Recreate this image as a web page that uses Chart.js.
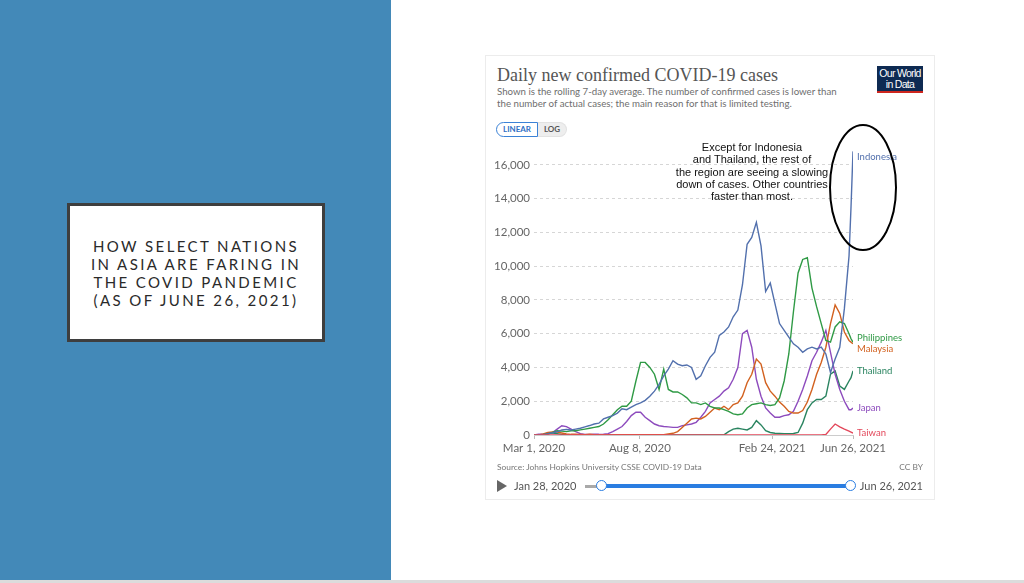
<!doctype html>
<html>
<head>
<meta charset="utf-8">
<title>How select nations in Asia are faring in the COVID pandemic</title>
<script src="https://cdn.jsdelivr.net/npm/chart.js@4.4.1/dist/chart.umd.min.js"></script>
<style>
body { margin: 0; width: 1024px; height: 583px; overflow: hidden; background: #fff; font-family: Lato, sans-serif; position: relative; }
.abs { position: absolute; }
#panel { left: 0; top: 0; width: 391px; height: 580px; background: #4389b8; }
#strip { left: 0; top: 580px; width: 1024px; height: 3px; background: #dcdcdc; }
#titlebox { left: 67px; top: 203px; width: 258px; height: 139px; box-sizing: border-box; border: 3px solid #3e3e3e; background: #fff;
  display: flex; align-items: center; justify-content: center; text-align: center;
  font-family: Lato, sans-serif; font-size: 15px; line-height: 18px; letter-spacing: 2.4px; color: #2a2a2a; }
#card { left: 485px; top: 55px; width: 450px; height: 445px; box-sizing: border-box; border: 1px solid #ececec; }
#title { left: 497px; top: 65px; font-family: "Liberation Serif", serif; font-size: 18px; color: #555; white-space: nowrap; }
#subtitle { left: 497px; top: 86px; font-size: 9.7px; line-height: 11.5px; color: #6e6e6e; white-space: nowrap; }
#logo { left: 877px; top: 66px; width: 46px; height: 27px; background: #0e2a52; border-bottom: 2px solid #ce261e; box-sizing: border-box;
  color: #fff; font-family: "Liberation Sans", sans-serif; font-size: 10.5px; line-height: 10.5px; text-align: center; letter-spacing: -0.7px; padding-top: 2px; white-space: nowrap; }
#toggle { left: 496px; top: 122px; height: 15px; display: flex; font-size: 8px; font-weight: bold; }
#toggle span { display: block; line-height: 13px; }
#lin { width: 40px; text-align: center; border: 1px solid #3b82d6; border-radius: 8px 0 0 8px; color: #2f6fc4; background: #fff; }
#log { width: 28px; text-align: center; border: 1px solid #e2e2e2; border-left: none; border-radius: 0 8px 8px 0; color: #555; background: #eee; }
#note { left: 662px; top: 141px; width: 180px; text-align: center; font-family: "Liberation Sans", Arial, sans-serif; font-size: 11px; line-height: 12.3px; color: #111; }
#source { left: 497px; top: 462px; font-size: 8.4px; color: #777; white-space: nowrap; }
#ccby { left: 870px; top: 462px; width: 53px; text-align: right; font-size: 8.4px; color: #777; white-space: nowrap; }
#play { left: 497px; top: 480px; width: 0; height: 0; border-top: 6px solid transparent; border-bottom: 6px solid transparent; border-left: 10px solid #666; }
#start { left: 514px; top: 479px; font-size: 11px; color: #555; white-space: nowrap; }
#end { left: 853px; top: 479px; width: 70px; text-align: right; font-size: 11px; color: #555; white-space: nowrap; }
#stub { left: 585px; top: 485px; width: 17px; height: 3px; background: #a9a9a9; }
#track { left: 602px; top: 484px; width: 249px; height: 4px; background: #2a7de1; }
.knob { width: 9px; height: 9px; border-radius: 50%; background: #fff; border: 1.5px solid #2a7de1; top: 480px; }
#k1 { left: 596px; }
#k2 { left: 845px; }
#holder { left: 485px; top: 130px; width: 450px; height: 330px; }
#oval { left: 0; top: 0; }
</style>
</head>
<body>
<div id="panel" class="abs"></div>
<div id="strip" class="abs"></div>
<div id="titlebox" class="abs"><div>HOW SELECT NATIONS<br>IN ASIA ARE FARING IN<br>THE COVID PANDEMIC<br>(AS OF JUNE 26, 2021)</div></div>
<div id="card" class="abs"></div>
<div id="title" class="abs">Daily new confirmed COVID-19 cases</div>
<div id="subtitle" class="abs">Shown is the rolling 7-day average. The number of confirmed cases is lower than<br>the number of actual cases; the main reason for that is limited testing.</div>
<div id="logo" class="abs">Our World<br>in Data</div>
<div id="toggle" class="abs"><span id="lin">LINEAR</span><span id="log">LOG</span></div>
<div id="holder" class="abs"><canvas id="chart-area" width="450" height="330"></canvas></div>
<div id="note" class="abs">Except for Indonesia<br>and Thailand, the rest of<br>the region are seeing a slowing<br>down of cases. Other countries<br>faster than most.</div>
<svg id="oval" class="abs" width="1024" height="583"><ellipse cx="863" cy="187.5" rx="33" ry="62.5" fill="none" stroke="#000" stroke-width="2"/></svg>
<div id="source" class="abs">Source: Johns Hopkins University CSSE COVID-19 Data</div>
<div id="ccby" class="abs">CC BY</div>
<div id="play" class="abs"></div>
<div id="start" class="abs">Jan 28, 2020</div>
<div id="stub" class="abs"></div>
<div id="track" class="abs"></div>
<div id="k1" class="abs knob"></div>
<div id="k2" class="abs knob"></div>
<div id="end" class="abs">Jun 26, 2021</div>
<script>
// days since Mar 1, 2020 (weekly, plus the last days of the run-up)
var days = [0, 7, 14, 21, 28, 35, 42, 49, 56, 63,
    70, 77, 84, 91, 98, 105, 112, 119, 126, 133,
    140, 147, 154, 161, 168, 175, 182, 189, 196, 203,
    210, 217, 224, 231, 238, 245, 252, 259, 266, 273,
    280, 287, 294, 301, 308, 315, 322, 329, 336, 343,
    350, 357, 364, 371, 378, 385, 392, 399, 406, 413,
    420, 427, 434, 441, 448, 455, 462, 469, 476, 479, 482];

// axis ticks
var tickDays = [0, 160, 360, 482];
var tickLabels = ["Mar 1, 2020", "Aug 8, 2020", "Feb 24, 2021", "Jun 26, 2021"];
var yTicks = [0, 2000, 4000, 6000, 8000, 10000, 12000, 14000, 16000];

// rolling 7-day average of new cases
var indonesia = [0, 2, 20, 80, 130, 190, 300, 330, 300, 350,
    400, 480, 560, 650, 700, 950, 1050, 1150, 1300, 1550,
    1500, 1650, 1800, 1900, 2050, 2300, 2600, 3000, 3500, 3900,
    4400, 4200, 4100, 4150, 4000, 3300, 3500, 4100, 4600, 4900,
    5900, 6100, 6400, 7000, 7400, 8900, 11300, 11700, 12600, 11200,
    8500, 9000, 7800, 6600, 6200, 5800, 5400, 5200, 4900, 5100,
    5200, 5100, 5200, 4800, 3700, 4500, 5200, 7500, 10600, 13500, 16800];
var philippines = [0, 1, 15, 60, 150, 250, 230, 200, 250, 250,
    300, 350, 400, 450, 500, 650, 900, 1200, 1500, 1700,
    1700, 2000, 3200, 4300, 4300, 4000, 3600, 2700, 3900, 2700,
    2550, 2550, 2400, 2200, 1900, 1900, 1800, 1900, 1700, 1600,
    1600, 1500, 1400, 1250, 1200, 1250, 1600, 1800, 1850, 1900,
    1800, 1750, 1800, 2200, 3200, 4800, 7300, 9600, 10400, 10500,
    8700, 7600, 6600, 5600, 5500, 6400, 6700, 6600, 6000, 5700, 5500];
var malaysia = [0, 5, 60, 150, 180, 170, 120, 60, 40, 40,
    30, 20, 40, 20, 10, 10, 10, 10, 15, 15,
    15, 15, 15, 15, 15, 15, 15, 20, 20, 60,
    100, 200, 450, 700, 950, 1000, 950, 1100, 1350, 1600,
    1500, 1700, 1500, 1800, 1900, 2300, 3100, 3600, 4500, 4200,
    3100, 2600, 2300, 1950, 1700, 1400, 1300, 1300, 1450, 1950,
    2700, 3600, 4300, 5200, 6600, 7700, 7200, 6100, 5600, 5500, 5400];
var thailand = [0, 2, 30, 110, 120, 80, 40, 15, 8, 5,
    3, 3, 3, 3, 3, 3, 3, 3, 3, 3,
    3, 3, 3, 3, 3, 3, 3, 3, 3, 3,
    3, 3, 3, 3, 3, 3, 3, 5, 5, 5,
    5, 5, 200, 350, 400, 350, 300, 450, 850, 600,
    250, 150, 100, 90, 80, 80, 90, 150, 700, 1500,
    1900, 2100, 2100, 2300, 3600, 3800, 2900, 2700, 3200, 3400, 3800];
var japan = [10, 40, 40, 50, 150, 350, 550, 500, 350, 200,
    80, 30, 30, 40, 40, 50, 80, 200, 350, 500,
    800, 1150, 1350, 1350, 1050, 850, 650, 550, 500, 480,
    450, 450, 550, 600, 650, 750, 1050, 1400, 1900, 2100,
    2300, 2600, 2800, 3300, 4000, 6000, 6200, 5200, 3300, 2300,
    1600, 1300, 1050, 1050, 1150, 1200, 1400, 2000, 2700, 3500,
    4400, 4900, 5500, 6200, 4900, 3600, 2700, 2000, 1500, 1500, 1600];
var taiwan = [0, 0, 0, 0, 0, 0, 0, 0, 0, 0,
    0, 0, 0, 0, 0, 0, 0, 0, 0, 0,
    0, 0, 0, 0, 0, 0, 0, 0, 0, 0,
    0, 0, 0, 0, 0, 0, 0, 0, 0, 0,
    0, 0, 0, 0, 0, 0, 0, 0, 0, 0,
    0, 0, 0, 0, 0, 0, 0, 0, 0, 0,
    0, 0, 0, 30, 350, 650, 480, 350, 230, 170, 110];

function pts(values) {
    return values.map(function(v, i) { return { x: days[i], y: v }; });
}
function line(label, values, color) {
    return { label: label, data: pts(values), borderColor: color, backgroundColor: color,
             borderWidth: 1.4, pointRadius: 0, tension: 0, fill: false };
}

// country names at the right end of each line
var endLabels = {
    id: 'endLabels',
    afterDatasetsDraw: function(chart) {
        var ctx = chart.ctx, area = chart.chartArea, ys = chart.scales.y;
        var items = chart.data.datasets.map(function(ds) {
            var last = ds.data[ds.data.length - 1].y;
            return { text: ds.label, color: ds.borderColor, y: Math.max(ys.getPixelForValue(last), area.top + 9) };
        });
        items.sort(function(a, b) { return a.y - b.y; });
        for (var k = 0; k < 5; k++) {
            for (var i = 1; i < items.length; i++) {
                var gap = items[i].y - items[i - 1].y;
                if (gap < 11) {
                    var push = (11 - gap) / 2;
                    items[i].y += push;
                    items[i - 1].y -= push;
                }
            }
        }
        ctx.save();
        ctx.font = '9.5px Lato';
        ctx.textBaseline = 'middle';
        items.forEach(function(it) {
            ctx.fillStyle = it.color;
            ctx.fillText(it.text, area.right + 4, it.y);
        });
        ctx.restore();
    }
};

var config = {
    type: 'line',
    data: {
        datasets: [
            line('Taiwan', taiwan, '#e3485b'),
            line('Indonesia', indonesia, '#5270ad'),
            line('Philippines', philippines, '#2f9a45'),
            line('Malaysia', malaysia, '#d2611f'),
            line('Japan', japan, '#8d4bbd'),
            line('Thailand', thailand, '#2a8460')
        ]
    },
    options: {
        responsive: false,
        devicePixelRatio: 1,
        animation: false,
        layout: { padding: { left: 0, right: 82, top: 18, bottom: 0 } },
        plugins: { legend: { display: false }, tooltip: { enabled: false } },
        scales: {
            x: {
                type: 'linear', min: 0, max: 482,
                afterBuildTicks: function(axis) {
                    axis.ticks = tickDays.map(function(d) { return { value: d }; });
                },
                afterFit: function(axis) { axis.height = 25; },
                ticks: {
                    autoSkip: false, maxRotation: 0, padding: 2,
                    color: '#666', font: { family: 'Lato', size: 11.5 },
                    callback: function(v) { return tickLabels[tickDays.indexOf(v)]; }
                },
                grid: { drawOnChartArea: false, drawTicks: true, tickLength: 4, color: '#bbb' },
                border: { display: true, color: '#ccc' }
            },
            y: {
                type: 'linear', min: 0, max: 17000,
                afterBuildTicks: function(axis) {
                    axis.ticks = yTicks.map(function(v) { return { value: v }; });
                },
                afterFit: function(axis) { axis.width = 49; },
                ticks: {
                    autoSkip: false, padding: 4,
                    color: '#666', font: { family: 'Lato', size: 11.5 },
                    callback: function(v) { return v.toLocaleString('en-US'); }
                },
                grid: { drawTicks: false, color: '#d6d6d6', lineWidth: 1 },
                border: { display: false, dash: [3, 3] }
            }
        }
    },
    plugins: [endLabels]
};

window.onload = function() {
    var ctx = document.getElementById("chart-area").getContext("2d");
    window.myLine = new Chart(ctx, config);
};
</script>
</body>
</html>
